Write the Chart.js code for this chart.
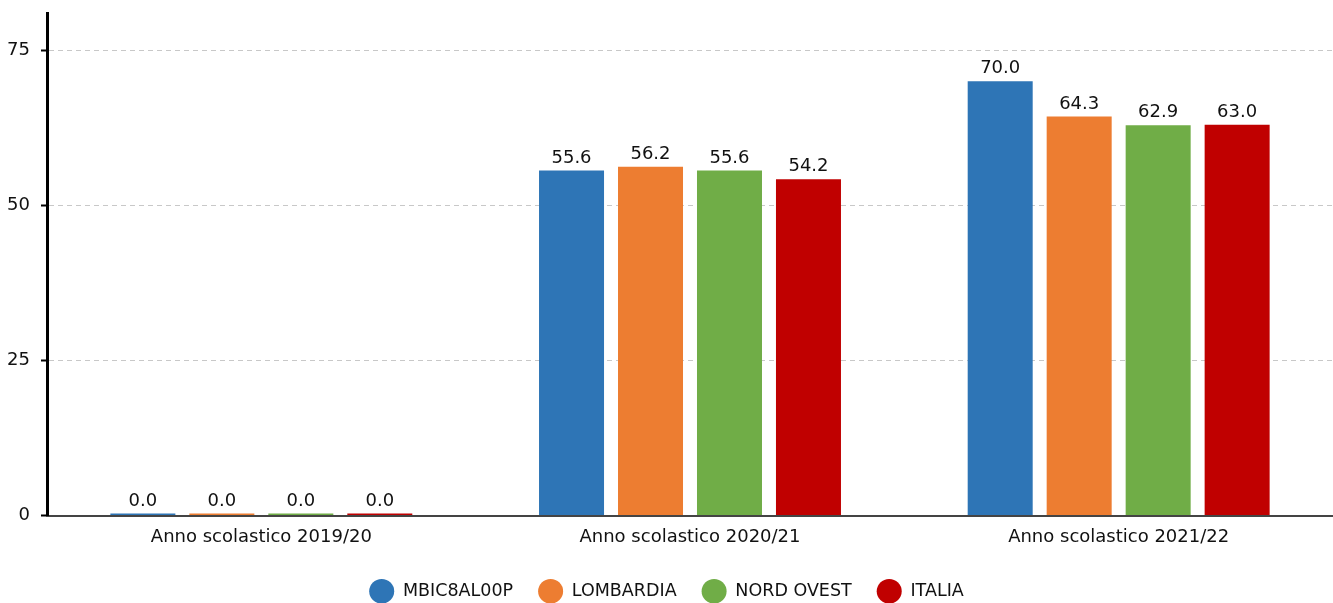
<!DOCTYPE html>
<html>
<head>
<meta charset="utf-8">
<script src="https://cdn.jsdelivr.net/npm/chart.js@4.4.1/dist/chart.umd.min.js"></script>
<style>
  html, body { margin: 0; padding: 0; background: #fff; }
  #wrap { width: 1333px; height: 603px; position: relative; }
</style>
</head>
<body>
<div id="wrap"><canvas id="chart"></canvas></div>
<script>
// school years on the x axis
const anni = ['Anno scolastico 2019/20', 'Anno scolastico 2020/21', 'Anno scolastico 2021/22'];

// one series per area
const mbic = [0.0, 55.6, 70.0];
const lombardia = [0.0, 56.2, 64.3];
const nordOvest = [0.0, 55.6, 62.9];
const italia = [0.0, 54.2, 63.0];

const yTicks = [0, 25, 50, 75];

const font = 'DejaVu Sans';

// writes the value on top of every bar
const valueLabels = {
  id: 'valueLabels',
  afterDatasetsDraw(chart) {
    const ctx = chart.ctx;
    ctx.save();
    ctx.font = '18px "' + font + '"';
    ctx.fillStyle = '#111';
    ctx.textAlign = 'center';
    ctx.textBaseline = 'alphabetic';
    chart.data.datasets.forEach((ds, i) => {
      const meta = chart.getDatasetMeta(i);
      meta.data.forEach((bar, j) => {
        ctx.fillText(ds.data[j].toFixed(1), bar.x, bar.y - 8);
      });
    });
    ctx.restore();
  }
};

const ctx = document.getElementById('chart');
new Chart(ctx, {
  type: 'bar',
  data: {
    labels: anni,
    datasets: [
      { label: 'MBIC8AL00P', data: mbic, backgroundColor: '#2E75B6' },
      { label: 'LOMBARDIA', data: lombardia, backgroundColor: '#ED7D31' },
      { label: 'NORD OVEST', data: nordOvest, backgroundColor: '#70AD47' },
      { label: 'ITALIA', data: italia, backgroundColor: '#C00000' }
    ]
  },
  plugins: [valueLabels],
  options: {
    responsive: true,
    maintainAspectRatio: false,
    animation: false,
    categoryPercentage: 0.737,
    barPercentage: 0.823,
    minBarLength: 2,
    layout: { padding: { top: 13, right: 0, left: 0, bottom: -7 } },
    plugins: {
      tooltip: { enabled: false },
      legend: {
        position: 'bottom',
        labels: {
          usePointStyle: true,
          pointStyle: 'circle',
          pointStyleWidth: 25,
          boxHeight: 18,
          padding: 25,
          color: '#111',
          font: { family: font, size: 17.5 }
        }
      }
    },
    scales: {
      x: {
        grid: { display: false, drawTicks: false },
        border: { display: true, color: '#444', width: 2 },
        afterFit(scale) { scale.height = 42; },
        ticks: { color: '#111', padding: 11, font: { family: font, size: 18 } }
      },
      y: {
        min: 0,
        max: 81,
        afterBuildTicks(scale) {
          scale.ticks = yTicks.map(v => ({ value: v }));
        },
        afterFit(scale) {
          scale.width = 47;
          scale.paddingTop = 0;
        },
        grid: {
          color: '#c8c8c8',
          tickColor: '#000',
          tickBorderDash: [],
          tickLength: 6,
          tickWidth: 2
        },
        border: { color: '#000', width: 3, dash: [5, 4] },
        ticks: { color: '#111', padding: 11, font: { family: font, size: 18 } }
      }
    }
  }
});
</script>
</body>
</html>
